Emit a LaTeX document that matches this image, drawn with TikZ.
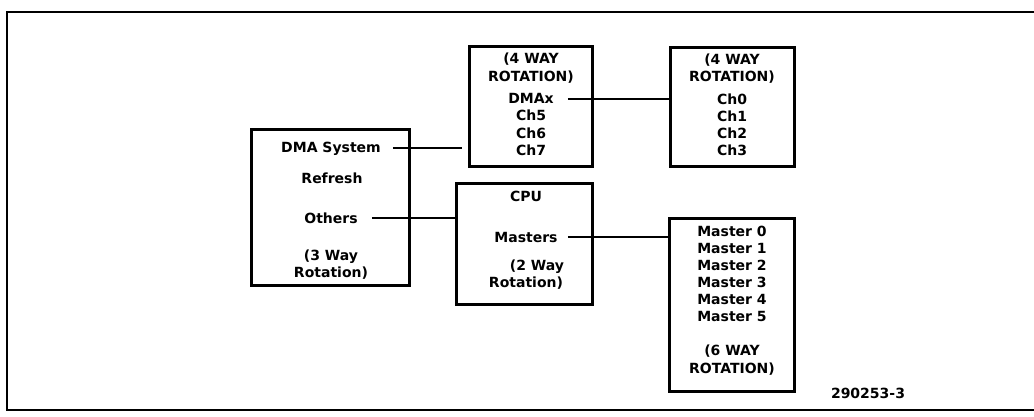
\documentclass[tikz,border=0pt]{standalone}
\usepackage{fontspec}
\setmainfont{DejaVu Sans}
\begin{document}
\begin{tikzpicture}[x=1pt,y=-1pt,
  box/.style={draw, line width=3.5pt, inner sep=0pt},
  lbl/.style={font=\bfseries\fontsize{14}{17}\selectfont, inner sep=0pt, anchor=base},
  wire/.style={line width=1.2pt},
  frame/.style={line width=1.5pt}]
\useasboundingbox (0,0) rectangle (1034,417);
% outer frame
\coordinate (f1) at (1034,12);
\coordinate (f2) at (7,12);
\coordinate (f3) at (7,410);
\coordinate (f4) at (1034,410);
\draw[frame] (f1) -- (f2) -- (f3) -- (f4);
% boxes
\node[box, minimum width=158pt, minimum height=156pt] (sysbox) at (330.5,207.5) {};
\node[box, minimum width=123pt, minimum height=120pt] (dmabox) at (531,106.5) {};
\node[box, minimum width=124pt, minimum height=119pt] (chbox) at (732.5,107) {};
\node[box, minimum width=136pt, minimum height=121pt] (cpubox) at (524.5,244) {};
\node[box, minimum width=125pt, minimum height=173pt] (mbox) at (732,305) {};
% system box texts
\node[lbl] (tsys) at (331,153) {DMA System};
\node[lbl] (tref) at (332,184) {Refresh};
\node[lbl] (toth) at (331,223) {Others};
\node[lbl] (t3a) at (331,260) {(3 Way};
\node[lbl] (t3b) at (331,277) {Rotation)};
% DMA box texts
\node[lbl] (d1) at (531,64) {(4 WAY};
\node[lbl] (d2) at (531,82) {ROTATION)};
\node[lbl] (dx) at (531,104) {DMAx};
\node[lbl] (d5) at (531,121) {Ch5};
\node[lbl] (d6) at (531,139) {Ch6};
\node[lbl] (d7) at (531,156) {Ch7};
% channel box texts
\node[lbl] (c1) at (732,65) {(4 WAY};
\node[lbl] (c2) at (732,82) {ROTATION)};
\node[lbl] (c0) at (732,105) {Ch0};
\node[lbl] (cc1) at (732,122) {Ch1};
\node[lbl] (cc2) at (732,139) {Ch2};
\node[lbl] (cc3) at (732,156) {Ch3};
% CPU box texts
\node[lbl] (p1) at (526,201) {CPU};
\node[lbl] (pm) at (526,242) {Masters};
\node[lbl] (p2a) at (537,270) {(2 Way};
\node[lbl] (p2b) at (526,287) {Rotation)};
% masters box texts
\node[lbl] (m0) at (732,236) {Master 0};
\node[lbl] (m1) at (732,253) {Master 1};
\node[lbl] (m2) at (732,270) {Master 2};
\node[lbl] (m3) at (732,287) {Master 3};
\node[lbl] (m4) at (732,304) {Master 4};
\node[lbl] (m5) at (732,321) {Master 5};
\node[lbl] (m6a) at (732,355) {(6 WAY};
\node[lbl] (m6b) at (732,373) {ROTATION)};
% figure number
\node[lbl] (fig) at (868,398) {290253-3};
% connector rows
\coordinate (r1) at (462,148);
\coordinate (r2) at (0,218);
\coordinate (r3) at (0,99);
\coordinate (r4) at (0,237);
% connectors
\draw[wire] ([xshift=12pt]tsys.east |- r1) -- (r1);
\draw[wire] ([xshift=14pt]toth.east |- r2) -- (cpubox.west |- r2);
\draw[wire] ([xshift=14pt]dx.east |- r3) -- (chbox.west |- r3);
\draw[wire] ([xshift=10pt]pm.east |- r4) -- (mbox.west |- r4);
\end{tikzpicture}
\end{document}
